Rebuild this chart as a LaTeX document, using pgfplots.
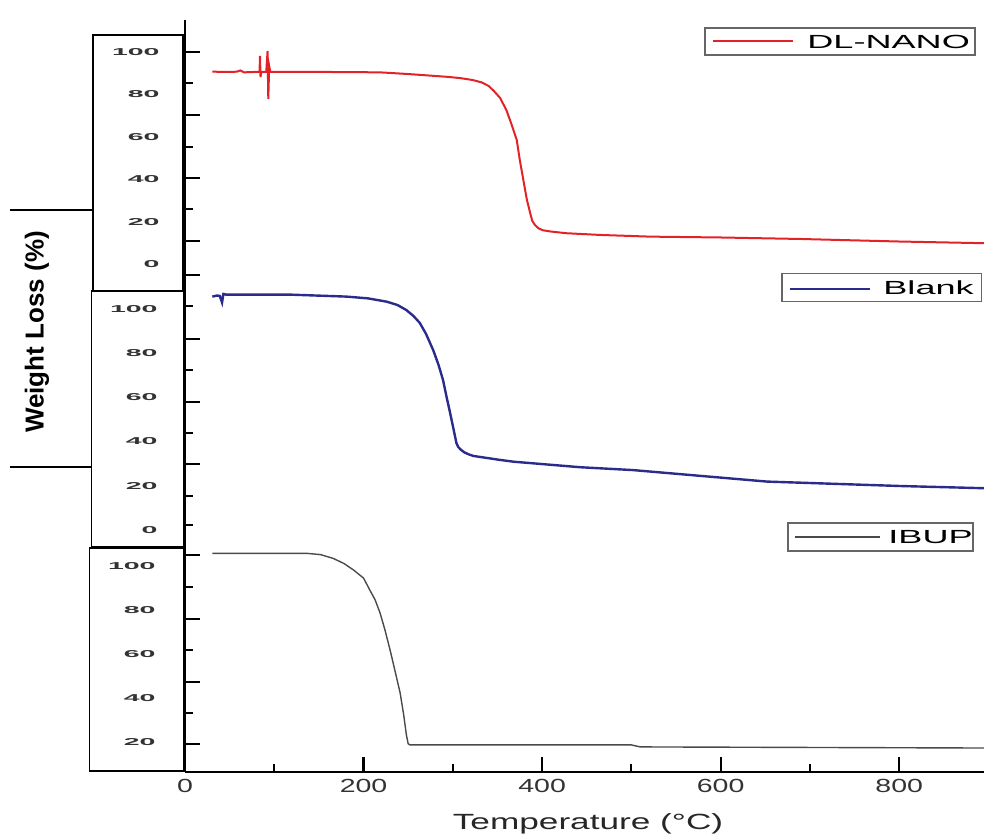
\documentclass[border=0pt]{standalone}
\usepackage{pgfplots}
\pgfplotsset{compat=1.18}
\usepackage{pgfplotstable}
\usepackage{graphicx}
\usepackage{fontspec}
\setmainfont{Liberation Sans}
\definecolor{nanored}{HTML}{E32227}
\definecolor{blankblue}{HTML}{2B2B8C}
\definecolor{ibupgray}{HTML}{4A4A4A}

% weight (%) read off each panel's own scale
\pgfplotstableread{
T w
30.6 90.7
50 90.6
58 90.7
62 91.3
66 90.4
80 90.6
83.5 90.6
84 98.1
84.6 88.2
85.5 90.6
91 90.6
92.5 100.5
93.3 77.8
94.3 93.4
95.5 90.6
150 90.6
218 90.4
250 89.6
293 88.3
308 87.7
322 86.8
332 85.7
340 84.0
346 81.6
353 78.3
360 72.6
366 65.6
371.6 58.5
375 49.1
379 39.6
383 30.2
386.6 24.1
389 20.3
392 18.4
396 16.8
401 15.9
410 15.3
427.6 14.5
465 13.7
521 12.9
600 12.5
689 11.8
800 10.6
895 9.8
}\nanotab

\pgfplotstableread{
T w
30.6 105.6
36 106.1
39 105.9
41.5 102.9
43 106.8
46 106.5
117.6 106.5
181 105.6
205 104.8
226 103.3
238 101.8
248 99.5
256 96.8
263 93.7
270 88.7
278 81.4
284 74.7
289 67.9
293 60.2
297 52.9
300.5 46.2
304 39.4
306 37.6
309 36.3
313 35.1
318 34.2
323 33.5
353 31.7
368 30.9
442.6 28.4
502 27.1
652 21.9
801 19.9
895 18.9
}\blanktab

\pgfplotstableread{
T w
30.6 105.6
136 105.6
152 105.0
166 103.3
178 101.0
188.6 98.1
200 94.4
207 89.0
213 84.5
218.5 78.6
224 70.9
229.7 61.9
235 52.8
241 42.4
245 32.4
248 23.4
250 19.4
252 18.9
500 18.9
510 18.0
895 17.5
}\ibuptab

\begin{document}
\begin{tikzpicture}
\begin{axis}[
  name=ax, at={(0,0)}, anchor=south west,
  scale only axis, width=399.5pt, height=376pt,
  xmin=0, xmax=895, ymin=0, ymax=752,
  axis lines=left, axis line style={-, line width=1.4pt},
  tick align=inside, tick style={black, line width=1.1pt},
  major tick length=7.5pt, minor tick length=4pt,
  xtick={0,200,400,600,800}, minor xtick={100,300,500,700},
  ytick={28,90,153,217,308,370,433,497,531,594,657,720},
  minor ytick={59,122,185,247,276,339,402,466,563,625,689},
  yticklabels={},
  /pgf/number format/assume math mode=true,
  xticklabel={\scalebox{1.5}[1]{\fontsize{9.5}{11}\selectfont\pgfmathprintnumber{\tick}}},
  xticklabel style={text=black!80},
  clip=false]
% each panel stacked on a common pixel-like scale
\addplot[nanored, line width=1pt] table[x=T, y expr=508+2.12*\thisrow{w}] {\nanotab};
\addplot[blankblue, line width=1.2pt] table[x=T, y expr=242+2.21*\thisrow{w}] {\blanktab};
\addplot[ibupgray, line width=0.7pt] table[x=T, y expr=-14.7+2.21*\thisrow{w}] {\ibuptab};
\end{axis}

\begin{scope}[shift={(-92.5pt,386pt)}, x=0.5pt, y=-0.5pt]
  % boxes holding the tick labels
  \draw[line width=0.8pt] (93,35) rectangle (183,291);
  \draw[line width=0.8pt] (91.5,291) rectangle (184,547);
  \draw[line width=0.8pt] (89.5,548) rectangle (183.5,771);
  \foreach \l/\y in {100/52,80/94.4,60/136.8,40/179.2,20/221.6,0/264}
    \node[anchor=east, inner sep=0, text=black!80] at (160,\y) {\scalebox{2.85}[1]{\bfseries\fontsize{5}{6}\selectfont \l}};
  \foreach \l/\y in {100/309,80/353,60/397,40/441,20/486,0/530}
    \node[anchor=east, inner sep=0, text=black!80] at (158,\y) {\scalebox{2.85}[1]{\bfseries\fontsize{5}{6}\selectfont \l}};
  \foreach \l/\y in {100/565.7,80/610,60/654,40/698,20/742}
    \node[anchor=east, inner sep=0, text=black!80] at (156,\y) {\scalebox{2.85}[1]{\bfseries\fontsize{5}{6}\selectfont \l}};
  % y label
  \draw[line width=0.6pt] (10,210) -- (92,210);
  \draw[line width=0.6pt] (10,467) -- (91,467);
  \node[rotate=90, font=\bfseries\fontsize{13}{15}\selectfont] at (37,332) {Weight Loss (\%)};
  % x label
  \node[text=black!85] at (588,824) {\scalebox{1.6}[1]{\fontsize{11}{13}\selectfont Temperature (°C)}};
  % legends
  \draw[black!60, line width=0.6pt] (705,28) rectangle (975,55);
  \draw[nanored, line width=1pt] (713,41) -- (793,41);
  \node[anchor=west, inner sep=0] at (807,41.5) {\scalebox{1.9}[1]{\fontsize{9.5}{11}\selectfont DL-NANO}};
  \draw[black!60, line width=0.6pt] (782,273.5) rectangle (981.5,301.5);
  \draw[blankblue, line width=1.2pt] (790,289) -- (870,289);
  \node[anchor=west, inner sep=0] at (883,288) {\scalebox{1.9}[1]{\fontsize{9.5}{11}\selectfont Blank}};
  \draw[black!60, line width=0.6pt] (788,523) rectangle (973,551);
  \draw[ibupgray, line width=0.7pt] (795,537) -- (880,537);
  \node[anchor=west, inner sep=0] at (888,537) {\scalebox{1.9}[1]{\fontsize{9.5}{11}\selectfont IBUP}};
  \pgfresetboundingbox
  \path[use as bounding box] (0,0) rectangle (984,838);
\end{scope}
\end{tikzpicture}
\end{document}
